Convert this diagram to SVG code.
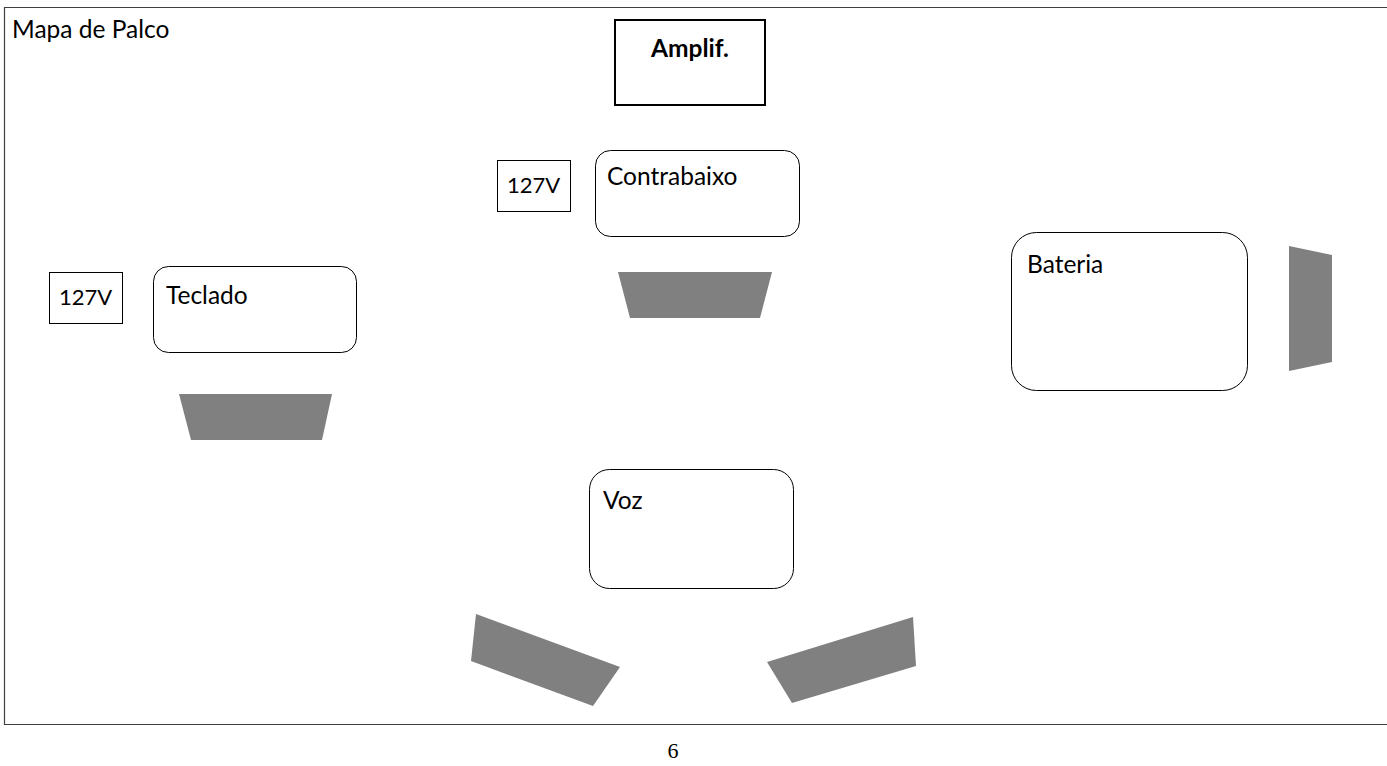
<svg xmlns="http://www.w3.org/2000/svg" width="1387" height="766" viewBox="0 0 1387 766">
<style>
.t{font-family:Lato,"Open Sans","Liberation Sans",sans-serif;font-size:24.5px;fill:#000}
.v{font-size:22px}
.box{fill:#fff;stroke:#000;stroke-width:1}
.spk{fill:#808080}
</style>
<rect width="1387" height="766" fill="#fff"/>
<g id="frame">
<path d="M1390 7.5 H4.5 V724.5 H1390" fill="none" stroke="#404040" stroke-width="1.2"/>
<text class="t" x="12" y="38">Mapa de Palco</text>
</g>
<g id="amplif">
<rect x="615" y="20" width="150" height="85" fill="#fff" stroke="#000" stroke-width="2"/>
<text class="t" x="690" y="57" text-anchor="middle" font-weight="bold">Amplif.</text>
</g>
<g id="v127-contrabaixo">
<rect class="box" x="497.5" y="160.5" width="73" height="51"/>
<text class="t v" x="507" y="193">127V</text>
</g>
<g id="contrabaixo">
<rect class="box" x="595.5" y="150.5" width="204" height="86" rx="15"/>
<text class="t" x="607" y="185">Contrabaixo</text>
</g>
<g id="monitor-contrabaixo">
<polygon class="spk" points="618,272 772,272 760,318 630,318"/>
</g>
<g id="v127-teclado">
<rect class="box" x="49.5" y="272.5" width="73" height="51"/>
<text class="t v" x="59" y="305">127V</text>
</g>
<g id="teclado">
<rect class="box" x="153.5" y="266.5" width="203" height="86" rx="15"/>
<text class="t" x="166" y="304">Teclado</text>
</g>
<g id="monitor-teclado">
<polygon class="spk" points="179,394 332,394 322,440 191,440"/>
</g>
<g id="bateria">
<rect class="box" x="1011.5" y="232.5" width="236" height="158" rx="25"/>
<text class="t" x="1027" y="273">Bateria</text>
</g>
<g id="monitor-bateria">
<polygon class="spk" points="1289,246 1332,255 1332,362 1289,371"/>
</g>
<g id="voz">
<rect class="box" x="589.5" y="469.5" width="204" height="119" rx="20"/>
<text class="t" x="603" y="509">Voz</text>
</g>
<g id="monitor-voz-esq">
<polygon class="spk" points="476,614 620,667 593,706 471,661"/>
</g>
<g id="monitor-voz-dir">
<polygon class="spk" points="767,662 913,617 916,666 792,703"/>
</g>
<g id="connectors"></g>
<text x="673" y="758" font-family="Liberation Serif,serif" font-size="22" text-anchor="middle">6</text>
</svg>
